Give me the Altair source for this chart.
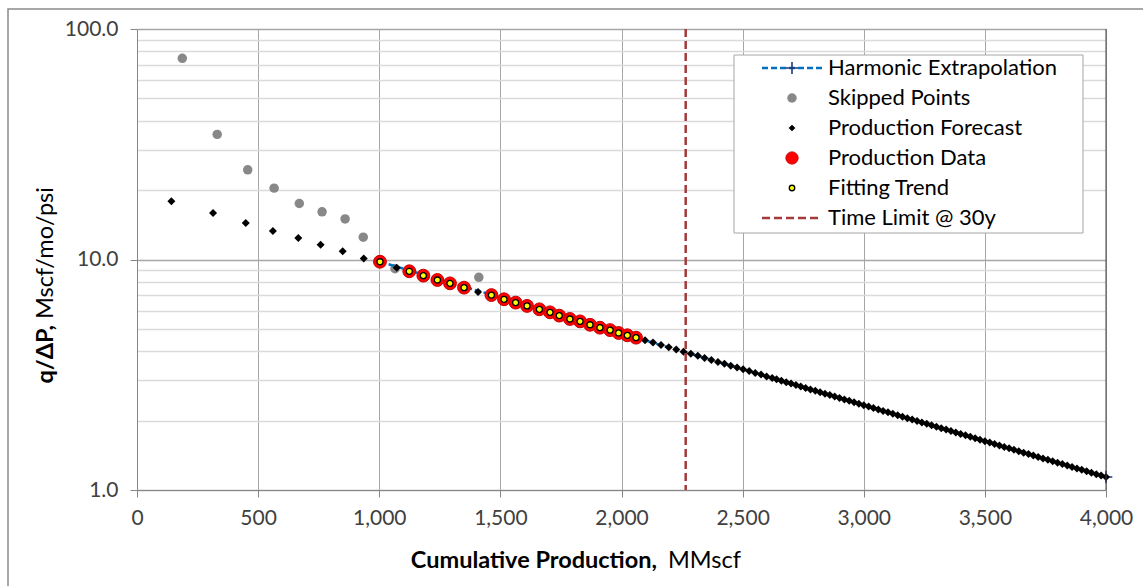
import altair as alt
import pandas as pd

# ---- data -------------------------------------------------------------
# Early points left out of the harmonic fit
skip_x = [187, 331, 457, 566, 670, 764, 859, 934, 1065, 1411]
skip_y = [74.6, 34.9, 24.5, 20.4, 17.5, 16.1, 15.0, 12.5, 9.12, 8.37]

# Production data used for the fit (also shown as the fitting trend)
prod_x = [1003, 1124, 1182, 1240, 1292, 1350, 1463, 1515, 1563, 1610, 1661,
          1705, 1743, 1787, 1829, 1870, 1911, 1953, 1988, 2024, 2060]
prod_y = [9.78, 8.89, 8.51, 8.15, 7.88, 7.55, 7.01, 6.72, 6.50, 6.29, 6.08,
          5.90, 5.71, 5.52, 5.39, 5.21, 5.06, 4.94, 4.80, 4.69, 4.58]

# Production forecast
fc_x = [142, 314, 449, 561, 666, 758, 849, 936, 1003, 1072, 1408,
        2097, 2130, 2163, 2195, 2226, 2256, 2286, 2315, 2343, 2371,
        2398, 2425, 2451, 2477, 2502, 2527, 2552, 2576, 2599, 2622,
        2640, 2660, 2680, 2700, 2720, 2740, 2760, 2780, 2800, 2820,
        2840, 2860, 2880, 2900, 2920, 2940, 2960, 2980, 3000, 3020,
        3040, 3060, 3080, 3100, 3120, 3140, 3160, 3180, 3200, 3220,
        3240, 3260, 3280, 3300, 3320, 3340, 3360, 3380, 3400, 3420,
        3440, 3460, 3480, 3500, 3520, 3540, 3560, 3580, 3600, 3620,
        3640, 3660, 3680, 3700, 3720, 3740, 3760, 3780, 3800, 3820,
        3840, 3860, 3880, 3900, 3920, 3940, 3960, 3980, 4000]
fc_y = [17.9, 15.9, 14.4, 13.3, 12.4, 11.6, 10.85, 10.1, 9.78, 9.21, 7.23,
        4.46, 4.36, 4.26, 4.16, 4.07, 3.98, 3.90, 3.82, 3.74, 3.66,
        3.59, 3.53, 3.46, 3.40, 3.34, 3.28, 3.22, 3.17, 3.11, 3.06,
        3.021, 2.978, 2.935, 2.894, 2.852, 2.812, 2.772, 2.732, 2.693, 2.655,
        2.617, 2.580, 2.543, 2.507, 2.471, 2.436, 2.401, 2.367, 2.333, 2.300,
        2.267, 2.235, 2.203, 2.172, 2.141, 2.110, 2.080, 2.050, 2.021, 1.992,
        1.964, 1.936, 1.908, 1.881, 1.854, 1.828, 1.802, 1.776, 1.751, 1.726,
        1.701, 1.677, 1.653, 1.629, 1.606, 1.583, 1.561, 1.538, 1.516, 1.495,
        1.473, 1.452, 1.432, 1.411, 1.391, 1.371, 1.352, 1.333, 1.314, 1.295,
        1.277, 1.258, 1.240, 1.223, 1.205, 1.188, 1.171, 1.155, 1.138]

# Harmonic extrapolation (straight on the semi-log plot)
harm_x = [1003, 4000]
harm_y = [9.78, 1.139]

# Economic time limit
time_limit_x = [2265]

# Axis ticks
x_ticks = [0, 500, 1000, 1500, 2000, 2500, 3000, 3500, 4000]
y_ticks = [1, 2, 3, 4, 5, 6, 7, 8, 9, 10, 20, 30, 40, 50, 60, 70, 80, 90, 100]

legend_labels = ["Harmonic Extrapolation", "Skipped Points", "Production Forecast",
                 "Production Data", "Fitting Trend", "Time Limit @ 30y"]

# ---- layout -----------------------------------------------------------
W, H = 969, 461
PAD_L, PAD_T = 137, 29
FONT = "Lato"
BLUE = "#0070C0"
NAVY = "#1F3A78"
LIMIT = "#A33A3A"
GRID = "#A6A6A6"
MINOR = "#DADADA"
AXIS = "#868686"

major = "datum.value == 1 || datum.value == 10 || datum.value == 100"

x_scale = alt.Scale(domain=[0, 4000], nice=False, zero=False)
y_scale = alt.Scale(type="log", domain=[1, 100], nice=False)

x_axis = alt.Axis(values=x_ticks, format=",d", grid=True, gridColor=GRID, gridWidth=1,
                  domainColor=AXIS, tickColor=AXIS, tickSize=7, labelFont=FONT,
                  labelFontSize=21, labelColor="#404040", labelPadding=10,
                  labelFlush=False, title=None)
y_axis = alt.Axis(values=y_ticks, grid=True,
                  gridColor={"condition": {"test": major, "value": GRID}, "value": MINOR},
                  gridWidth=1.3,
                  tickColor={"condition": {"test": major, "value": AXIS}, "value": "transparent"},
                  labelExpr=f"({major}) ? format(datum.value, '.1f') : ''",
                  labelOverlap=False, labelFlush=False, domainColor=AXIS, tickSize=7,
                  labelFont=FONT, labelFontSize=21, labelColor="#404040",
                  labelPadding=12, title=None)


def X(field="x"):
    return alt.X(f"{field}:Q", scale=x_scale, axis=x_axis)


def Y(field="y"):
    return alt.Y(f"{field}:Q", scale=y_scale, axis=y_axis)


skip_df = pd.DataFrame({"x": skip_x, "y": skip_y})
prod_df = pd.DataFrame({"x": prod_x, "y": prod_y})
fc_df = pd.DataFrame({"x": fc_x, "y": fc_y})
harm_df = pd.DataFrame({"x": harm_x, "y": harm_y})
limit_df = pd.DataFrame({"x": time_limit_x})

plus_path = "M-1,0L1,0M0,-1L0,1"

skipped = alt.Chart(skip_df).mark_point(shape="circle", filled=True, color="#888888",
                                        size=90, opacity=1).encode(x=X(), y=Y())
harm_line = alt.Chart(harm_df).mark_line(color=BLUE, strokeWidth=2.5,
                                         strokeDash=[6, 3]).encode(x=X(), y=Y())
harm_pts = alt.Chart(harm_df).mark_point(shape=plus_path, filled=False, stroke=NAVY,
                                         strokeWidth=1.6, size=160, opacity=1).encode(x=X(), y=Y())
forecast = alt.Chart(fc_df).mark_point(shape="diamond", filled=True, color="black",
                                       size=64, opacity=1).encode(x=X(), y=Y())
prod = alt.Chart(prod_df).mark_point(shape="circle", filled=True, fill="#FF0000",
                                     stroke="#C80000", strokeWidth=1, size=165,
                                     opacity=1).encode(x=X(), y=Y())
trend = alt.Chart(prod_df).mark_point(shape="circle", filled=True, fill="#FFFF00",
                                      stroke="black", strokeWidth=1.3, size=36,
                                      opacity=1).encode(x=X(), y=Y())
limit = alt.Chart(limit_df).mark_rule(color=LIMIT, strokeWidth=2.5,
                                      strokeDash=[8, 4]).encode(x=X())
right_edge = alt.Chart(alt.Data(values=[{"x": 4000}])).mark_rule(
    color="#404040", strokeWidth=1).encode(x=X())

one = alt.Data(values=[{}])


def txt(s, px, py, **kw):
    return alt.Chart(one).mark_text(text=s, font=FONT, **kw).encode(
        x=alt.value(px), y=alt.value(py))


# outer frame of the chart
frame = alt.Chart(one).mark_rect(fill="transparent", stroke="#8A8A8A", strokeWidth=1.5).encode(
    x=alt.value(8 - PAD_L), y=alt.value(9 - PAD_T),
    x2=alt.value(1143 - PAD_L + 20), y2=alt.value(586 - PAD_T + 20))

# legend box
LX0, LX1, LY0, LY1 = 597, 946, 26, 204
row_h = 30
row0 = 39
sym_x = 655
line_x0, line_x1 = 625, 685
text_x = 691
rows = [row0 + i * row_h for i in range(len(legend_labels))]

legend_layers = [
    alt.Chart(one).mark_rect(fill="white", stroke="#A6A6A6", strokeWidth=1).encode(
        x=alt.value(LX0), x2=alt.value(LX1), y=alt.value(LY0), y2=alt.value(LY1)),
    alt.Chart(one).mark_rule(color=BLUE, strokeWidth=2.5, strokeDash=[6, 3]).encode(
        x=alt.value(line_x0), x2=alt.value(line_x1), y=alt.value(rows[0])),
    alt.Chart(one).mark_point(shape=plus_path, filled=False, stroke=NAVY, strokeWidth=1.6,
                              size=150, opacity=1).encode(x=alt.value(sym_x), y=alt.value(rows[0])),
    alt.Chart(one).mark_point(shape="circle", filled=True, color="#888888", size=90,
                              opacity=1).encode(x=alt.value(sym_x), y=alt.value(rows[1])),
    alt.Chart(one).mark_point(shape="diamond", filled=True, color="black", size=45,
                              opacity=1).encode(x=alt.value(sym_x), y=alt.value(rows[2])),
    alt.Chart(one).mark_point(shape="circle", filled=True, fill="#FF0000", stroke="#C80000",
                              strokeWidth=1, size=150, opacity=1).encode(
        x=alt.value(sym_x), y=alt.value(rows[3])),
    alt.Chart(one).mark_point(shape="circle", filled=True, fill="#FFFF00", stroke="black",
                              strokeWidth=1.3, size=30, opacity=1).encode(
        x=alt.value(sym_x), y=alt.value(rows[4])),
    alt.Chart(one).mark_rule(color=LIMIT, strokeWidth=2.5, strokeDash=[8, 4]).encode(
        x=alt.value(line_x0), x2=alt.value(line_x1), y=alt.value(rows[5])),
]
legend_layers += [txt(lab, text_x, ry, align="left", baseline="middle", fontSize=22,
                      color="black") for lab, ry in zip(legend_labels, rows)]

# axis titles: bold quantity followed by regular-weight units
titles = [
    txt("Cumulative Production,", 520, 539, align="right", baseline="alphabetic",
        fontSize=23.5, fontWeight="bold", color="black"),
    txt("MMscf", 531, 539, align="left", baseline="alphabetic", fontSize=23.5, color="black"),
    txt("q/ΔP,", -91, 296, align="right", baseline="middle", angle=270,
        fontSize=23.5, fontWeight="bold", color="black"),
    txt("Mscf/mo/psi", -91, 290, align="left", baseline="middle", angle=270,
        fontSize=23.5, color="black"),
]

chart = alt.layer(
    skipped, harm_line, harm_pts, forecast, prod, trend, limit, right_edge,
    frame, *legend_layers, *titles
).properties(
    width=W, height=H,
    autosize=alt.AutoSizeParams(type="none"),
    padding={"left": PAD_L, "top": PAD_T, "right": 1143 - PAD_L - W, "bottom": 586 - PAD_T - H},
    background="white",
).configure_view(stroke=None)

chart.save("out.html", embed_options={"renderer": "svg", "actions": False})
